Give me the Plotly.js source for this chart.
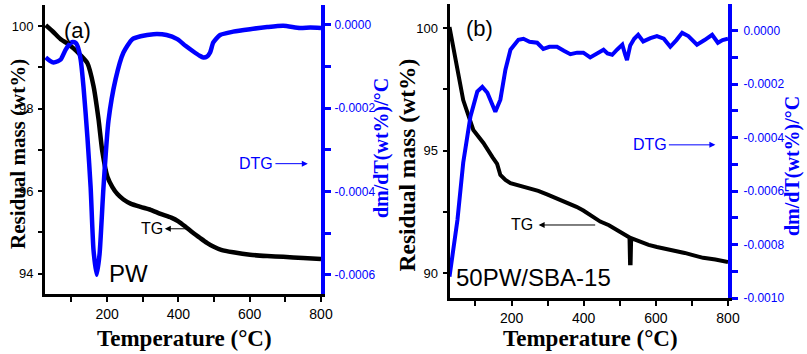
<!DOCTYPE html>
<html>
<head>
<meta charset="utf-8">
<script src="https://cdn.plot.ly/plotly-3.0.1.min.js"></script>
<style>html,body{margin:0;padding:0;background:#fff}#chart{width:807px;height:354px}</style>
</head>
<body>
<div id="chart"></div>
<script>
// ---- Panel (a) PW ----
const tempA_TG = [28, 50, 70, 90, 106, 125, 145, 162, 176, 187, 201, 215, 229, 246, 266, 294, 322, 350, 380, 400, 420, 440, 462, 480, 498, 520, 554, 601, 649, 694, 750, 800];
const massA = [100.02, 99.85, 99.68, 99.57, 99.46, 99.3, 99.1, 98.55, 97.75, 96.95, 96.35, 96.1, 95.93, 95.8, 95.7, 95.62, 95.55, 95.45, 95.36, 95.27, 95.14, 95.0, 94.86, 94.75, 94.66, 94.58, 94.52, 94.46, 94.43, 94.41, 94.38, 94.36];
const tempA_DTG = [28, 40, 50, 62, 70, 84, 95, 103, 112, 117, 126, 134, 145, 154, 162, 171, 179, 190, 204, 224, 246, 271, 294, 330, 367, 397, 420, 441, 460, 470, 480, 489, 498, 517, 554, 601, 649, 694, 741, 770, 800];
const dtgA = [-0.78e-4, -0.86e-4, -0.9e-4, -0.87e-4, -0.83e-4, -0.59e-4, -0.46e-4, -0.41e-4, -0.43e-4, -0.5e-4, -0.83e-4, -1.49e-4, -2.7e-4, -3.9e-4, -5.4e-4, -6.0e-4, -5.5e-4, -3.9e-4, -2.3e-4, -1.3e-4, -0.66e-4, -0.34e-4, -0.27e-4, -0.22e-4, -0.24e-4, -0.34e-4, -0.5e-4, -0.63e-4, -0.74e-4, -0.78e-4, -0.76e-4, -0.66e-4, -0.42e-4, -0.24e-4, -0.16e-4, -0.1e-4, -0.05e-4, -0.02e-4, -0.07e-4, -0.06e-4, -0.07e-4];

// ---- Panel (b) 50PW/SBA-15 ----
const tempB_TG = [28, 50, 66, 94, 122, 147, 160, 169, 183, 197, 216, 233, 274, 300, 326, 354, 380, 399, 420, 446, 470, 492, 510, 527, 528.5, 530, 531.5, 556, 580, 603, 631, 648, 680, 705, 731, 765, 800];
const massB = [100.04, 98.29, 97.06, 95.84, 95.31, 94.73, 94.45, 94.0, 93.8, 93.67, 93.6, 93.5, 93.35, 93.2, 93.05, 92.85, 92.7, 92.55, 92.35, 92.1, 91.95, 91.75, 91.6, 91.45, 90.4, 90.4, 91.42, 91.27, 91.15, 91.06, 90.98, 90.9, 90.82, 90.72, 90.62, 90.55, 90.45];
const tempB_DTG = [28, 50, 66, 86, 105, 119, 133, 155, 169, 183, 197, 219, 233, 250, 271, 288, 305, 326, 345, 363, 382, 399, 418, 437, 455, 466, 479, 493, 507, 515, 520, 529, 540, 551, 565, 585, 603, 622, 640, 657, 673, 690, 714, 735, 756, 772, 785, 800];
const dtgB = [-9.2e-4, -7.08e-4, -4.94e-4, -3.22e-4, -2.28e-4, -2.1e-4, -2.32e-4, -3.03e-4, -2.58e-4, -1.46e-4, -0.71e-4, -0.34e-4, -0.3e-4, -0.41e-4, -0.45e-4, -0.68e-4, -0.6e-4, -0.6e-4, -0.75e-4, -0.88e-4, -0.82e-4, -0.82e-4, -1.0e-4, -0.85e-4, -0.71e-4, -0.85e-4, -0.9e-4, -0.7e-4, -0.52e-4, -0.9e-4, -1.1e-4, -0.55e-4, -0.3e-4, -0.15e-4, -0.4e-4, -0.28e-4, -0.2e-4, -0.3e-4, -0.6e-4, -0.35e-4, -0.08e-4, -0.2e-4, -0.52e-4, -0.35e-4, -0.15e-4, -0.45e-4, -0.35e-4, -0.3e-4];

// ---- tick labels ----
const dtgTicksA = [0, -0.0002, -0.0004, -0.0006];
const dtgMinorA = [-0.0001, -0.0003, -0.0005];
const dtgTicksB = [0, -0.0002, -0.0004, -0.0006, -0.0008, -0.0010];
const dtgMinorB = [-0.0001, -0.0003, -0.0005, -0.0007, -0.0009];
const fmt = v => (v === 0 ? 0 : v).toFixed(4);

const BLUE = '#0000ff';
const SANS = 'Liberation Sans, Arial, sans-serif';
const SERIF = 'Liberation Serif, Times New Roman, serif';

const traces = [
  {x: tempA_TG, y: massA, xaxis: 'x', yaxis: 'y', mode: 'lines', line: {color: '#000', width: 4.5, shape: 'spline', smoothing: 0.6}, hoverinfo: 'skip'},
  {x: tempA_DTG, y: dtgA, xaxis: 'x', yaxis: 'y2', mode: 'lines', line: {color: BLUE, width: 4.5, shape: 'spline', smoothing: 0.6}, hoverinfo: 'skip'},
  {x: tempB_TG, y: massB, xaxis: 'x2', yaxis: 'y3', mode: 'lines', line: {color: '#000', width: 4}, hoverinfo: 'skip'},
  {x: tempB_DTG, y: dtgB, xaxis: 'x2', yaxis: 'y4', mode: 'lines', line: {color: BLUE, width: 4}, hoverinfo: 'skip'}
];

const W = 807, H = 354;
const domAx = [45 / W, 321 / W], domAy = [1 - 294 / H, 1 - 5 / H];
const domBx = [449.5 / W, 728 / W], domBy = [1 - 298 / H, 1 - 4 / H];

function xAxis(domain, anchor, range) {
  return {domain, anchor, range, showline: true, linecolor: '#000', linewidth: 3,
    ticks: 'outside', ticklen: 5, tickwidth: 2, tickcolor: '#000', dtick: 200, tick0: 0,
    minor: {dtick: 100, ticks: 'outside', ticklen: 5, tickwidth: 2, tickcolor: '#000', showgrid: false},
    showgrid: false, zeroline: false, tickfont: {family: SANS, size: 14, color: '#000'}, ticklabelstandoff: 0};
}
function topAxis(over, anchor, range) {
  return {overlaying: over, anchor, side: 'top', range, showline: true, linecolor: '#000', linewidth: 3,
    ticks: 'inside', ticklen: 5, tickwidth: 2, tickcolor: '#000', dtick: 100, tick0: 0,
    showticklabels: false, showgrid: false, zeroline: false};
}
function leftAxis(domain, anchor, range, dtick, minor) {
  return {domain, anchor, range, showline: true, linecolor: '#000', linewidth: 3,
    ticks: 'outside', ticklen: 4, tickwidth: 2, tickcolor: '#000', dtick, tick0: 0,
    minor: {dtick: minor, ticks: 'outside', ticklen: 4, tickwidth: 2, tickcolor: '#000', showgrid: false},
    showgrid: false, zeroline: false, tickfont: {family: SANS, size: 13, color: '#000'}, ticklabelstandoff: 2};
}
function rightAxis(over, anchor, range, vals, minorVals, standoff) {
  return {overlaying: over, anchor, side: 'right', range, showline: true, linecolor: BLUE, linewidth: 4,
    ticks: 'outside', ticklen: 6, tickwidth: 3, tickcolor: BLUE,
    tickmode: 'array', tickvals: vals, ticktext: vals.map(fmt),
    minor: {tickmode: 'array', tickvals: minorVals, ticks: 'outside', ticklen: 6, tickwidth: 3, tickcolor: BLUE, showgrid: false},
    showgrid: false, zeroline: false, tickfont: {family: SANS, size: 12, color: BLUE}, ticklabelstandoff: standoff};
}

const annText = (text, x, y, size, color, angle, fam, bold) => ({
  xref: 'paper', yref: 'paper', x: x / W, y: 1 - y / H, xanchor: 'center', yanchor: 'middle',
  text: bold ? '<b>' + text + '</b>' : text, showarrow: false, textangle: angle || 0, borderpad: 0,
  font: {family: fam || SANS, size, color: color || '#000'}
});
const arrow = (xr, yr, xh, xt, y, color) => ({
  xref: xr, yref: yr, axref: xr, ayref: yr, x: xh, y: y, ax: xt, ay: y, text: '',
  showarrow: true, arrowhead: 2, arrowsize: 1.2, arrowwidth: 1, arrowcolor: color, standoff: 0, startstandoff: 0
});
const dataText = (xr, yr, text, x, y, size, color) => ({
  xref: xr, yref: yr, x, y, text, showarrow: false, xanchor: 'center', yanchor: 'middle',
  font: {family: SANS, size, color}
});

const layout = {
  width: W, height: H, margin: {l: 0, r: 0, t: 0, b: 0}, paper_bgcolor: '#fff', plot_bgcolor: 'rgba(0,0,0,0)',
  showlegend: false,
  xaxis: xAxis(domAx, 'y', [26, 800]),
  xaxis3: topAxis('x', 'y', [26, 800]),
  yaxis: leftAxis(domAy, 'x', [93.51, 100.51], 2, 1),
  yaxis2: rightAxis('y', 'x', [-0.000646, 0.000048], dtgTicksA, dtgMinorA, 1),
  xaxis2: xAxis(domBx, 'y3', [28, 800]),
  xaxis4: topAxis('x2', 'y3', [28, 800]),
  yaxis3: leftAxis(domBy, 'x2', [88.98, 100.98], 5, 2.5),
  yaxis4: rightAxis('y3', 'x2', [-0.001, 0.0001], dtgTicksB, dtgMinorB, 3),
  annotations: [
    annText('Residual mass (wt%)', 18, 154, 21, '#000', -90, SERIF, true),
    annText('dm/dT(wt%)/°C', 382, 148, 20, BLUE, -90, SERIF, true),
    annText('Temperature (°C)', 184, 338.5, 23, '#000', 0, SERIF, true),
    annText('Residual mass (wt%)', 407, 165.5, 23.5, '#000', -90, SERIF, true),
    annText('dm/dT(wt%)/°C', 792, 166, 20, BLUE, -90, SERIF, true),
    annText('Temperature (°C)', 590, 338.5, 23, '#000', 0, SERIF, true),
    annText('(a)', 77.5, 30, 22),
    annText('PW', 128.5, 273, 24),
    annText('(b)', 479, 29, 22),
    annText('50PW/SBA-15', 533, 277, 24),
    dataText('x', 'y', 'TG', 326, 95.09, 16, '#000'),
    arrow('x', 'y', 362, 432, 95.09, '#000'),
    dataText('x', 'y2', 'DTG', 618, -0.000333, 16, BLUE),
    arrow('x', 'y2', 763, 668, -0.000333, BLUE),
    dataText('x2', 'y3', 'TG', 228, 91.96, 16, '#000'),
    arrow('x2', 'y3', 275, 436, 91.96, '#000'),
    dataText('x2', 'y4', 'DTG', 585, -0.000427, 16, BLUE),
    arrow('x2', 'y4', 765, 632, -0.000427, BLUE)
  ]
};

Plotly.newPlot('chart', traces, layout, {staticPlot: true, displayModeBar: false});
</script>
</body>
</html>
